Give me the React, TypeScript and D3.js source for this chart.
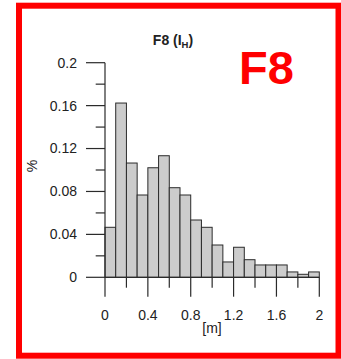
import React from 'react';
import * as d3 from 'd3';

// histogram bins, width 0.1 m
const binStarts = [0, 0.1, 0.2, 0.3, 0.4, 0.5, 0.6, 0.7, 0.8, 0.9, 1.0, 1.1, 1.2, 1.3, 1.4, 1.5, 1.6, 1.7, 1.8, 1.9];
const binValues = [0.0466, 0.1624, 0.1065, 0.0767, 0.1021, 0.1133, 0.0835, 0.0767, 0.0534, 0.0466, 0.0301, 0.0143, 0.028, 0.0164, 0.0115, 0.0115, 0.0115, 0.005, 0.0028, 0.005];
const binWidth = 0.1;

const xMajor = [0, 0.4, 0.8, 1.2, 1.6, 2];
const xMinor = [0.2, 0.6, 1.0, 1.4, 1.8];
const yMajor = [0, 0.04, 0.08, 0.12, 0.16, 0.2];
const yMinor = [0.02, 0.06, 0.1, 0.14, 0.18];

const W = 341;
const H = 359;

function App(): JSX.Element {
  const x = d3.scaleLinear().domain([0, 2]).range([105, 319.3]);
  const y = d3.scaleLinear().domain([0, 0.2]).range([277.3, 62.7]);
  const fmt = (v: number) => (v === 0 ? '0' : String(+v.toFixed(2)));
  const axisColor = '#2b2b2b';
  const font = 'Liberation Sans, Arial, sans-serif';

  return (
    <div style={{ position: 'absolute', left: 0, top: 0 }}>
      <svg width={W} height={H} style={{ display: 'block' }} fontFamily={font}>
        <rect x={0} y={0} width={W} height={H} fill="white" />
        <rect x={19} y={5.7} width={319.5} height={350} fill="none" stroke="#ff0000" strokeWidth={6} />

        {/* bars */}
        {binValues.map((v, i) => (
          <rect
            key={i}
            x={x(binStarts[i])}
            y={y(v)}
            width={x(binStarts[i] + binWidth) - x(binStarts[i])}
            height={y(0) - y(v)}
            fill="#cccccc"
            stroke={axisColor}
            strokeWidth={1}
          />
        ))}

        {/* y axis */}
        <line x1={x(0)} x2={x(0)} y1={y(0.2)} y2={y(0)} stroke={axisColor} strokeWidth={1.2} />
        {yMajor.map((t) => (
          <g key={'ym' + t}>
            <line x1={86} x2={x(0)} y1={y(t)} y2={y(t)} stroke={axisColor} strokeWidth={1.2} />
            <text x={77} y={y(t)} dy="0.35em" textAnchor="end" fontSize={14} fill="#222">{fmt(t)}</text>
          </g>
        ))}
        {yMinor.map((t) => (
          <line key={'yn' + t} x1={95.7} x2={x(0)} y1={y(t)} y2={y(t)} stroke={axisColor} strokeWidth={1.2} />
        ))}

        {/* x axis */}
        <line x1={x(0)} x2={x(2)} y1={y(0)} y2={y(0)} stroke={axisColor} strokeWidth={1.2} />
        {xMajor.map((t) => (
          <g key={'xm' + t}>
            <line x1={x(t)} x2={x(t)} y1={y(0)} y2={296.7} stroke={axisColor} strokeWidth={1.2} />
            <text x={x(t)} y={320} textAnchor="middle" fontSize={14} fill="#222">{fmt(t)}</text>
          </g>
        ))}
        {xMinor.map((t) => (
          <line key={'xn' + t} x1={x(t)} x2={x(t)} y1={y(0)} y2={287.7} stroke={axisColor} strokeWidth={1.2} />
        ))}

        <text x={212} y={333} textAnchor="middle" fontSize={14} fill="#222">[m]</text>
        <text transform="translate(36.5,166) rotate(-90)" textAnchor="middle" fontSize={14} fill="#222">%</text>

        <text x={173} y={45} textAnchor="middle" fontSize={14} fontWeight="bold" fill="#222">
          F8 (I<tspan fontSize={9.5} dy={3}>H</tspan><tspan dy={-3}>)</tspan>
        </text>

        <text x={239} y={84} fontSize={47} fontWeight="bold" fill="#ff0000">F8</text>
      </svg>
    </div>
  );
}

export default App;
